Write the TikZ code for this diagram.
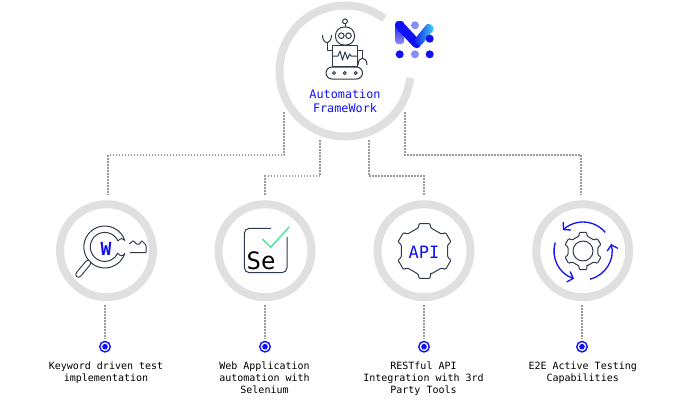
\documentclass[tikz,border=0pt]{standalone}
\usepackage{fontspec}
\setmonofont{DejaVu Sans Mono}
\usepackage{xcolor}
\usetikzlibrary{arrows.meta,calc}
\definecolor{ringgray}{HTML}{E0E0E0}
\definecolor{dotgray}{HTML}{9A9A9A}
\definecolor{handblue}{HTML}{1010F5}
\definecolor{logolight}{HTML}{8C8CF5}
\definecolor{logocyan}{HTML}{40E0F0}
\definecolor{iconline}{HTML}{2F3B4A}
\definecolor{checkgreen}{HTML}{2EE88A}
\newcommand{\geartooth}[3]{-- (#1-15:#2) -- (#1-11:#3) -- (#1+11:#3) -- (#1+15:#2)}
\tikzset{
  ring/.style={circle,draw=ringgray,line width=8pt,minimum size=93pt,inner sep=0pt},
  ringarc/.style={draw=ringgray,line width=8pt},
  dotflow/.style={draw=dotgray,line width=2pt,dash pattern=on 1.5pt off 1.5pt},
  dotmark/.style={circle,draw=handblue,fill=white,line width=1.4pt,minimum size=10.5pt,inner sep=0pt},
  dotcore/.style={circle,fill=handblue,minimum size=5.6pt,inner sep=0pt},
  caption/.style={font=\ttfamily\fontsize{10}{12}\selectfont,align=center,anchor=north,inner sep=0pt,text=black},
  title/.style={font=\ttfamily\fontsize{11.8}{14}\selectfont,align=center,text=handblue,inner sep=0pt},
  icon/.style={draw=iconline,line width=1pt,line join=round},
  bluearc/.style={draw=handblue,line width=1.3pt,-{Straight Barb[length=5pt,width=11pt]}},
}
\begin{document}
\begin{tikzpicture}[x=1pt,y=-1pt]
  \useasboundingbox (0,0) rectangle (690,400);
  % main ring
  \draw[ringarc] (345,71) ++(-53:65.5) arc (-53:-354:65.5);
  \node[title] (main) at (345,101) {Automation\\FrameWork};
  \coordinate (tapa) at (284,112);
  \coordinate (tapb) at (320,140);
  \coordinate (tapc) at (369,140);
  \coordinate (tapd) at (405,112);
  \coordinate (dropa) at (108,195);
  \coordinate (dropb) at (265,195);
  \coordinate (dropc) at (424,195);
  \coordinate (dropd) at (581,195);
  % robot
  \draw[icon,rounded corners=8.5pt] (335.5,27) rectangle (354.5,45);
  \draw[icon] (345,21.3) circle (2.4);
  \draw[icon] (345,23.7) -- (345,27);
  \draw[icon] (341.3,35.7) circle (2.8);
  \draw[icon] (348.5,35.7) circle (2.8);
  \draw[icon] (332.5,45.5) rectangle (357,66.5);
  \draw[icon] (332.5,56) -- (338,56) -- (340,51) -- (342.5,60) -- (345,52) -- (347.5,59) -- (349.5,54) -- (351,56) -- (357,56);
  \draw[icon] (332.5,50) -- (327,50) -- (327,43);
  \draw[icon] (322.5,35) .. controls (322.5,45) and (331.5,45) .. (331.5,35);
  \draw[icon] (357,50) -- (362,50) -- (362,58);
  \draw[icon] (358,65) .. controls (358,56) and (367,56) .. (367,65);
  \draw[icon,rounded corners=6pt] (326,67) rectangle (362.5,79);
  \draw[icon] (334,73) circle (1.5);
  \draw[icon] (344.7,73) circle (1.5);
  \draw[icon] (355.7,73) circle (1.5);
  % logo
  \shade[top color=handblue,bottom color=logolight,rounded corners=3pt] (395.2,21) rectangle (404.2,44);
  \draw[handblue,line width=9pt,line cap=round] (399.7,25.5) -- (416.7,43.7);
  \shade[left color=handblue,right color=logocyan,rounded corners=3pt] (413.2,41) -- (420.2,46.6) -- (435,28.2) -- (428,22.6) -- cycle;
  \fill[logolight] (415,25.3) circle (4);
  \fill[handblue] (429.7,38.7) circle (4);
  \fill[handblue] (399.7,54.3) circle (4);
  \fill[logolight] (415,54.3) circle (4);
  \fill[handblue] (429.7,54.3) circle (4);
  % lower rings
  \node[ring] (ringa) at (106.5,250.7) {};
  \node[ring] (ringb) at (265,250.7) {};
  \node[ring] (ringc) at (424,250.7) {};
  \node[ring] (ringd) at (582.7,250.7) {};
  % connectors
  \draw[dotflow] (tapa) -- (284,155) -| (dropa);
  \draw[dotflow] (tapb) -- (320,176) -| (dropb);
  \draw[dotflow] (tapc) -- (369,176) -| (dropc);
  \draw[dotflow] (tapd) -- (405,155) -| (dropd);
  % keyword icon
  \draw[icon] (124.8,240.5) arc (-18:-342:21);
  \draw[icon] (118,241) arc (-24:-336:14.5);
  \draw[icon] (118,241) .. controls (120,238) and (123,238) .. (124.8,240.5);
  \draw[icon] (118,253.5) .. controls (120,256.5) and (123,256.5) .. (124.8,253.5);
  \draw[iconline,line width=6.5pt,line cap=round] (88,263) -- (78.5,274.5);
  \draw[white,line width=4.3pt,line cap=round] (88,263) -- (78.5,274.5);
  \draw[icon,rounded corners=.6pt] (129.3,244) -- (133.3,240.7) -- (136.7,244) -- (139.3,244.3) -- (141.7,240.7) -- (146,245) -- (146,252.7) -- (130,252.7);
  \node[font=\ttfamily\bfseries\fontsize{18}{18}\selectfont,text=handblue,inner sep=0pt] (wlabel) at (106,248.5) {W};
  % selenium icon
  \draw[icon,rounded corners=5pt] (271,228.3) -- (244.3,228.3) -- (244.3,272.7) -- (287,272.7) -- (287,237);
  \draw[checkgreen,line width=1.2pt] (262.3,239) -- (270.7,247.3) -- (289.3,226.7);
  \node[font=\ttfamily\fontsize{24}{24}\selectfont,text=black,inner sep=0pt] (selabel) at (261,261) {Se};
  % api icon
  \begin{scope}[shift={(424.5,251)}]
    \draw[icon,rounded corners=1pt] (75:24) \geartooth{90}{24}{28} \geartooth{150}{24}{28} \geartooth{210}{24}{28} \geartooth{270}{24}{28} \geartooth{330}{24}{28} \geartooth{30}{24}{28} -- cycle;
  \end{scope}
  \node[font=\ttfamily\fontsize{17}{17}\selectfont,text=handblue,inner sep=0pt] (apilabel) at (424,252) {API};
  % e2e icon
  \begin{scope}[shift={(583,251)}]
    \draw[icon,rounded corners=1pt] (75:15.5) \geartooth{90}{15.5}{19} \geartooth{150}{15.5}{19} \geartooth{210}{15.5}{19} \geartooth{270}{15.5}{19} \geartooth{330}{15.5}{19} \geartooth{30}{15.5}{19} -- cycle;
    \draw[icon] (0,0) circle (10);
    \draw[bluearc] (-40:29) arc (-40:-134:29);
    \draw[bluearc] (197:29) arc (197:108:29);
    \draw[bluearc] (76:29) arc (76:-14:29);
  \end{scope}
  % markers
  \node[dotmark] (dota) at (105,346.7) {};
  \node[dotmark] (dotb) at (265,346.7) {};
  \node[dotmark] (dotc) at (424,346.7) {};
  \node[dotmark] (dotd) at (582,346.7) {};
  \node[dotcore] at (dota) {};
  \node[dotcore] at (dotb) {};
  \node[dotcore] at (dotc) {};
  \node[dotcore] at (dotd) {};
  \draw[dotflow,shorten <=4pt,shorten >=2pt] (ringa.south -| dota) -- (dota);
  \draw[dotflow,shorten <=4pt,shorten >=2pt] (ringb.south -| dotb) -- (dotb);
  \draw[dotflow,shorten <=4pt,shorten >=2pt] (ringc.south -| dotc) -- (dotc);
  \draw[dotflow,shorten <=4pt,shorten >=2pt] (ringd.south -| dotd) -- (dotd);
  % captions
  \node[caption] (capa) at (106,362) {Keyword driven test\\implementation};
  \node[caption] (capb) at (264.5,362) {Web Application\\automation with\\Selenium};
  \node[caption] (capc) at (423.5,362) {RESTful API\\Integration with 3rd\\Party Tools};
  \node[caption] (capd) at (582.7,362) {E2E Active Testing\\Capabilities};
\end{tikzpicture}
\end{document}
